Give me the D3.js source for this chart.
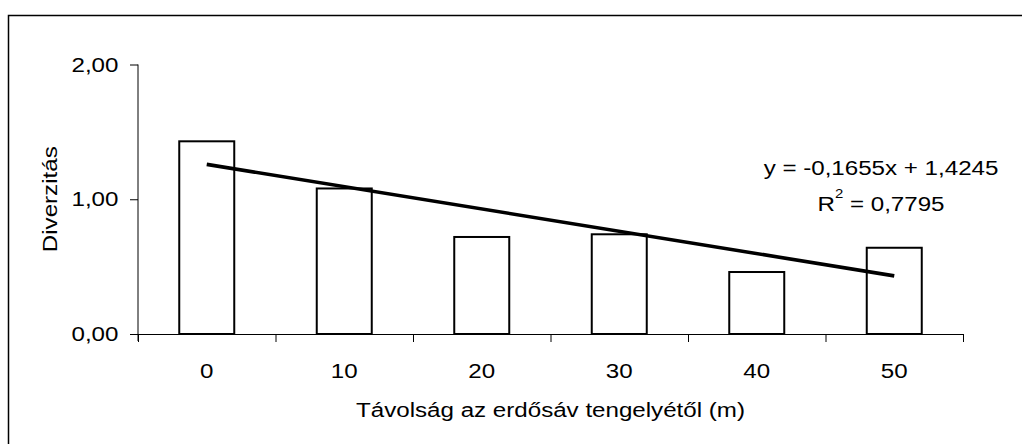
<!DOCTYPE html>
<html>
<head>
<meta charset="utf-8">
<script src="https://cdn.jsdelivr.net/npm/d3@7"></script>
<style>
  html, body { margin: 0; padding: 0; background: #fff; }
  svg { display: block; }
  text { font-family: "Liberation Sans", Arial, sans-serif; fill: #000; }
</style>
</head>
<body>
<div id="chart"></div>
<script>
// Distance categories (m) and diversity values
const categories = ["0", "10", "20", "30", "40", "50"];
const diversity = [1.43, 1.08, 0.72, 0.74, 0.46, 0.64];
const yTickValues = [0, 1, 2];
const yTickLabels = ["0,00", "1,00", "2,00"];

// Linear trendline over category index 1..6
const trendSlope = -0.1655;
const trendIntercept = 1.4245;
const trendR2 = 0.7795;

const yTitle = "Diverzitás";
const xTitle = "Távolság az erdősáv tengelyétől (m)";

const W = 1022, H = 444;
const fontSize = 21;
const stretch = 1.15;
const plot = { left: 138, right: 963, top: 64.5, bottom: 334 };

const svg = d3.select("#chart").append("svg")
  .attr("width", W).attr("height", H);

// Chart area frame
svg.append("rect")
  .attr("x", 8.5).attr("y", 15.5)
  .attr("width", 1200).attr("height", 600)
  .attr("fill", "none").attr("stroke", "#000").attr("stroke-width", 1.5);

const x = d3.scaleBand()
  .domain(categories)
  .range([plot.left, plot.right])
  .paddingInner(0.6)
  .paddingOuter(0.3);

const xBounds = d3.scaleLinear()
  .domain([0, categories.length])
  .range([plot.left, plot.right]);

const y = d3.scaleLinear()
  .domain([0, 2])
  .range([plot.bottom, plot.top]);

const fmt = d => yTickLabels[yTickValues.indexOf(d)];

function styleText(sel) {
  sel.attr("font-size", fontSize)
     .attr("font-family", "Liberation Sans, Arial, sans-serif")
     .attr("fill", "#000");
}

// Bars
svg.append("g").selectAll("rect")
  .data(categories.map((c, i) => ({ c, v: diversity[i] })))
  .join("rect")
  .attr("x", d => x(d.c))
  .attr("y", d => y(d.v))
  .attr("width", x.bandwidth())
  .attr("height", d => y(0) - y(d.v))
  .attr("fill", "#fff")
  .attr("stroke", "#000")
  .attr("stroke-width", 2);

// Y axis
const yAxis = svg.append("g")
  .attr("transform", `translate(${plot.left},0)`)
  .call(d3.axisLeft(y).tickValues(yTickValues).tickFormat(fmt)
    .tickSize(8).tickSizeOuter(0).tickPadding(9));
yAxis.select(".domain").attr("d", `M0,${plot.top}V${plot.bottom + 7}`);
yAxis.selectAll(".tick line").attr("stroke", "#000");
yAxis.selectAll(".tick text").call(styleText)
  .attr("transform", `scale(${stretch},1)`);

// X axis: boundary ticks
const xAxis = svg.append("g")
  .attr("transform", `translate(0,${plot.bottom})`)
  .call(d3.axisBottom(xBounds).ticks(categories.length)
    .tickFormat("").tickSize(8).tickSizeOuter(0));
xAxis.selectAll(".tick line").attr("stroke", "#000");

// X axis: category labels
const xLabels = svg.append("g")
  .attr("transform", `translate(0,${plot.bottom})`)
  .call(d3.axisBottom(x).tickSize(0).tickPadding(29));
xLabels.select(".domain").remove();
xLabels.selectAll(".tick text").call(styleText)
  .attr("transform", `scale(${stretch},1)`);
svg.selectAll(".domain").attr("stroke", "#000");

// Trendline
const trend = categories.map((c, i) => ({
  c, v: trendSlope * (i + 1) + trendIntercept
}));
const firstT = trend[0], lastT = trend[trend.length - 1];
svg.append("path")
  .datum([firstT, lastT])
  .attr("d", d3.line()
    .x(d => x(d.c) + x.bandwidth() / 2)
    .y(d => y(d.v)))
  .attr("fill", "none")
  .attr("stroke", "#000")
  .attr("stroke-width", 3.6);

// Trendline equation
const fmtNum = v => String(v).replace(".", ",");
const eq = svg.append("g").attr("transform", "translate(881,0)");
eq.append("text")
  .attr("transform", `translate(0,175) scale(${stretch},1)`)
  .attr("text-anchor", "middle")
  .call(styleText)
  .text(`y = ${fmtNum(trendSlope)}x + ${fmtNum(trendIntercept)}`);
const r2 = eq.append("text")
  .attr("transform", `translate(0,211) scale(${stretch},1)`)
  .attr("text-anchor", "middle")
  .call(styleText);
r2.append("tspan").text("R");
r2.append("tspan").attr("dy", -13).attr("font-size", 13).text("2");
r2.append("tspan").attr("dy", 13).text(` = ${fmtNum(trendR2)}`);

// Axis titles
svg.append("text")
  .attr("transform", `translate(57,${(plot.top + plot.bottom) / 2}) rotate(-90) scale(${stretch},1)`)
  .attr("text-anchor", "middle")
  .call(styleText)
  .text(yTitle);

svg.append("text")
  .attr("transform", `translate(${(plot.left + plot.right) / 2},417) scale(${stretch},1)`)
  .attr("text-anchor", "middle")
  .call(styleText)
  .text(xTitle);
</script>
</body>
</html>
